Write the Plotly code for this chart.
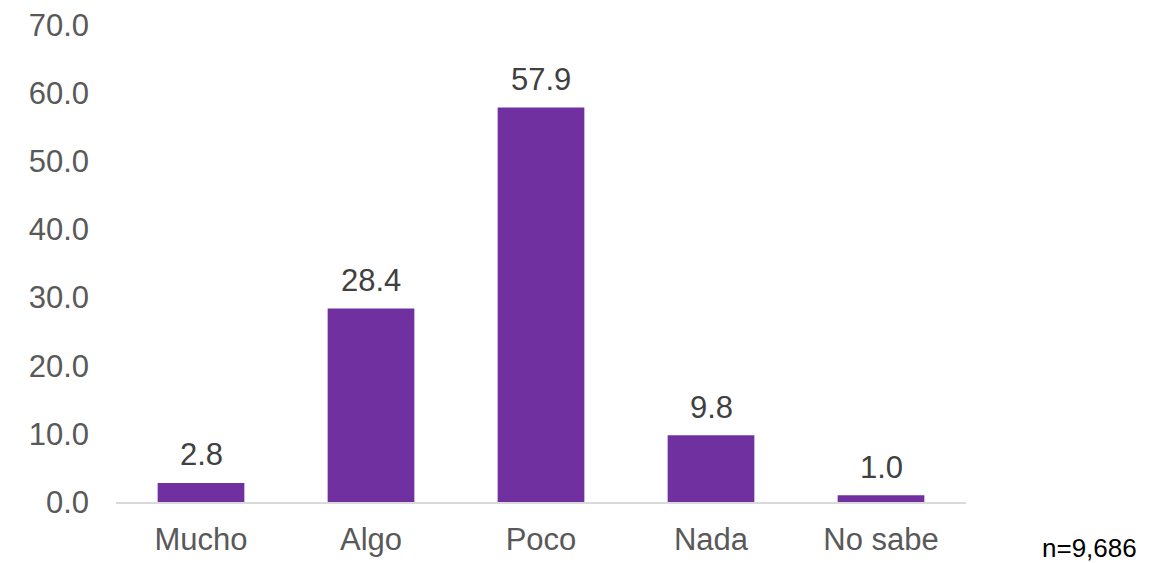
import plotly.graph_objects as go

categories = ["Mucho", "Algo", "Poco", "Nada", "No sabe"]
values = [2.8, 28.4, 57.9, 9.8, 1.0]
y_ticks = [0, 10, 20, 30, 40, 50, 60, 70]
note = "n=9,686"

BAR = "#7030A0"
FONT = "Liberation Sans, Arial, sans-serif"

# page body has an 8px margin; size the figure to fit the 1166x563 window
OFF = 8
W, H = 1166 - OFF, 563 - OFF
ml, mt = 116 - OFF, 25 - OFF
plot_r, plot_b = 966 - OFF, 502 - OFF
mr, mb = W - plot_r, H - plot_b

note_x, note_y = 1089 - OFF, 548 - OFF

fig = go.Figure()
fig.add_trace(go.Bar(x=categories, y=values, marker=dict(color=BAR, line=dict(width=0)),
                     width=0.51, hoverinfo="x+y"))

for c, v in zip(categories, values):
    fig.add_annotation(x=c, y=v, text=f"{v:.1f}", showarrow=False, yshift=28,
                       xanchor="center", yanchor="middle",
                       font=dict(size=31, color="#404040", family=FONT))

fig.add_annotation(x=(note_x - ml) / (W - ml - mr), y=(H - mb - note_y) / (H - mt - mb),
                   xref="paper", yref="paper", text=note, showarrow=False,
                   xanchor="center", yanchor="middle",
                   font=dict(size=26, color="#000000", family=FONT))

fig.update_layout(
    template="none",
    width=W, height=H,
    margin=dict(l=ml, r=mr, t=mt, b=mb, autoexpand=False),
    plot_bgcolor="white", paper_bgcolor="white",
    showlegend=False,
    font=dict(family=FONT),
)
fig.update_xaxes(showgrid=False, showline=True, linecolor="#D9D9D9", linewidth=2,
                 ticks="", automargin=False, ticklabeloverflow="allow",
                 tickfont=dict(size=31, color="#595959", family=FONT),
                 ticklabelstandoff=9)
fig.update_yaxes(range=[0, 70], tickvals=y_ticks, ticktext=[f"{t:.1f}" for t in y_ticks],
                 showgrid=False, showline=False, zeroline=False, ticks="", automargin=False,
                 ticklabeloverflow="allow",
                 tickfont=dict(size=31, color="#595959", family=FONT),
                 ticklabelstandoff=26)

fig.write_html("out.html")
